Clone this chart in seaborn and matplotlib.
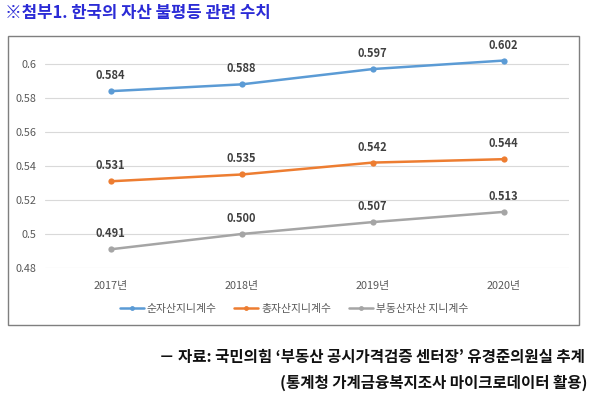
import pandas as pd
import matplotlib
matplotlib.use('Agg')
import matplotlib.pyplot as plt
import matplotlib.patches as patches
import seaborn as sns


# =========================================================
# DATA
# =========================================================

years = ['2017년', '2018년', '2019년', '2020년']

series_names = ['순자산지니계수', '총자산지니계수', '부동산자산 지니계수']

net_asset_gini = [0.584, 0.588, 0.597, 0.602]
total_asset_gini = [0.531, 0.535, 0.542, 0.544]
real_estate_gini = [0.491, 0.500, 0.507, 0.513]

y_ticks = [0.48, 0.5, 0.52, 0.54, 0.56, 0.58, 0.6]
y_tick_labels = ['0.48', '0.5', '0.52', '0.54', '0.56', '0.58', '0.6']

colors = ['#5B9BD5', '#ED7D31', '#A5A5A5']


# =========================================================
# BUILD TABLE
# =========================================================

rows = []
for name, values in zip(series_names,
                        [net_asset_gini, total_asset_gini, real_estate_gini]):
    for i, v in enumerate(values):
        rows.append({'idx': i, 'value': v, 'series': name})

df = pd.DataFrame(rows)


# =========================================================
# PLOT
# =========================================================

sns.set_style('white')
plt.rcParams['font.family'] = ['Noto Sans CJK KR', 'DejaVu Sans']

fig = plt.figure(figsize=(5.94, 3.98), dpi=100)
ax = fig.add_axes([0.0758, 0.3266, 0.8822, 0.5554])

sns.lineplot(
    data=df,
    x='idx',
    y='value',
    hue='series',
    hue_order=series_names,
    palette=colors,
    marker='o',
    markersize=4.5,
    markeredgewidth=0,
    linewidth=1.8,
    ax=ax,
    legend=False
)

for name, values in zip(series_names,
                        [net_asset_gini, total_asset_gini, real_estate_gini]):
    for i, v in enumerate(values):
        ax.annotate(
            f'{v:.3f}',
            (i, v),
            xytext=(0, 6.5),
            textcoords='offset points',
            ha='center',
            va='bottom',
            fontsize=8,
            fontweight='bold',
            color='#404040'
        )

ax.set_xlim(-0.5, 3.5)
ax.set_ylim(0.48, 0.61)
ax.set_yticks(y_ticks)
ax.set_yticklabels(y_tick_labels)
ax.set_xticks(range(len(years)))
ax.set_xticklabels(years)
ax.tick_params(axis='both', labelsize=7.8, labelcolor='#595959',
               length=0)
ax.tick_params(axis='x', pad=9)
ax.tick_params(axis='y', pad=6)
ax.set_xlabel('')
ax.set_ylabel('')

ax.yaxis.grid(True, color='#D9D9D9', linewidth=0.8)
ax.xaxis.grid(False)
for spine in ax.spines.values():
    spine.set_visible(False)

# legend
handles = [
    plt.Line2D([0], [0], color=c, marker='o', markersize=3.5,
               markeredgewidth=0, linewidth=1.8)
    for c in colors
]
fig.legend(
    handles,
    series_names,
    loc='center',
    bbox_to_anchor=(0.495, 0.224),
    ncol=3,
    frameon=False,
    fontsize=7.8,
    labelcolor='#595959',
    handlelength=2.2,
    handletextpad=0.3,
    columnspacing=1.6
)

# chart border
fig.patches.append(patches.Rectangle(
    (8 / 594, 1 - 325 / 398),
    571 / 594,
    289 / 398,
    transform=fig.transFigure,
    fill=False,
    edgecolor='#7F7F7F',
    linewidth=1.0
))

# title
fig.text(
    0.008, 1 - 13 / 398,
    '※첨부1. 한국의 자산 불평등 관련 수치',
    ha='left', va='center',
    fontsize=12, fontweight='bold',
    color='#2B2BD6'
)

# source note
fig.text(
    585 / 594, 1 - 357 / 398,
    '－ 자료: 국민의힘 ‘부동산 공시가격검증 센터장’ 유경준의원실 추계',
    ha='right', va='center',
    fontsize=11.2, fontweight='bold',
    color='#111111'
)
fig.text(
    587 / 594, 1 - 383 / 398,
    '(통계청 가계금융복지조사 마이크로데이터 활용)',
    ha='right', va='center',
    fontsize=11.2, fontweight='bold',
    color='#111111'
)

fig.savefig('out.png', dpi=100)
